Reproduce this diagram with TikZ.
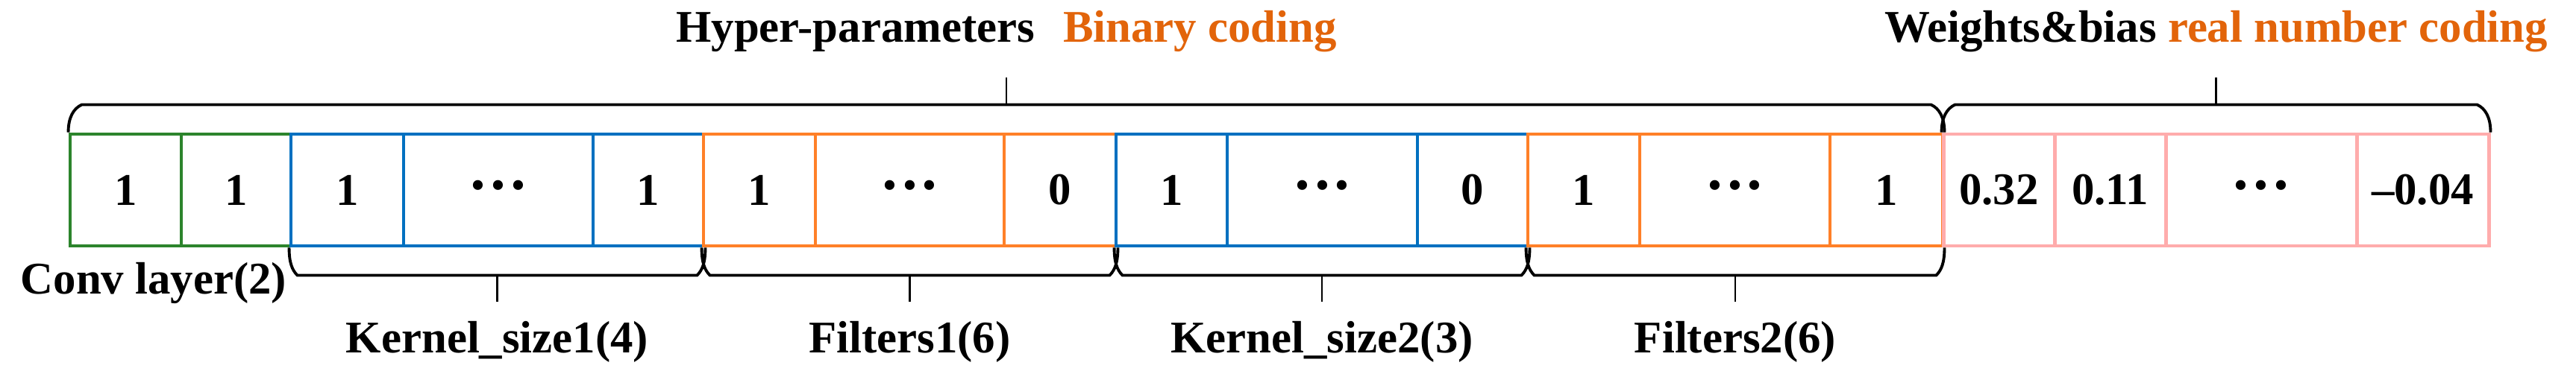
\documentclass[tikz,border=0pt]{standalone}
\usepackage{fontspec}
\setmainfont{Liberation Serif}
\usetikzlibrary{calc}
\definecolor{convgreen}{RGB}{44,132,44}
\definecolor{kernblue}{RGB}{0,112,192}
\definecolor{filtorange}{RGB}{255,128,40}
\definecolor{wtpink}{RGB}{255,172,172}
\definecolor{codeorange}{RGB}{226,100,10}
\tikzset{
  cell/.style={draw, line width=1.4pt, minimum height=1.5cm, inner sep=0pt},
  gcell/.style={cell, draw=convgreen},
  bcell/.style={cell, draw=kernblue},
  ocell/.style={cell, draw=filtorange},
  pcell/.style={cell, draw=wtpink},
  dotcell/.style={text height=0.41cm, text depth=0pt, font=\fontsize{23}{23}\selectfont\bfseries},
  brc/.style={line width=1.1pt, black},
  tick/.style={line width=0.8pt},
  lbl/.style={anchor=north, text height=0.45cm, text depth=0.12cm, inner sep=0.22cm},
  ttl/.style={anchor=south, text depth=0.15cm, inner xsep=0pt, inner ysep=0.31cm},
  % curved bracket below / above a group of cells
  dnbrace/.style={to path={.. controls ($(\tikztostart)+(0,-0.2)$) and ($(\tikztostart)+(0.04,-0.3)$) .. ($(\tikztostart)+(0.11,-0.37)$) -- ($(\tikztotarget)+(-0.11,-0.37)$) .. controls ($(\tikztotarget)+(-0.04,-0.3)$) and ($(\tikztotarget)+(0,-0.2)$) .. (\tikztotarget)}},
  upbrace/.style={to path={.. controls ($(\tikztostart)+(0,0.2)$) and ($(\tikztostart)+(0.07,0.32)$) .. ($(\tikztostart)+(0.18,0.37)$) -- ($(\tikztotarget)+(-0.18,0.37)$) .. controls ($(\tikztotarget)+(-0.07,0.32)$) and ($(\tikztotarget)+(0,0.2)$) .. (\tikztotarget)}}
}
\begin{document}
\begin{tikzpicture}[font=\fontsize{17.3}{20}\selectfont\bfseries]
\useasboundingbox (0,0) rectangle (34.53,5.05);
% conv layers
\node[gcell, minimum width=1.49cm] (c0) at (1.685,2.5){1};
\node[gcell, minimum width=1.47cm] (c1) at (3.165,2.5){1};
% kernel size 1
\node[bcell, minimum width=1.51cm] (c2) at (4.655,2.5){1};
\node[bcell, dotcell, minimum width=2.54cm] (c3) at (6.68,2.5){···};
\node[bcell, minimum width=1.48cm] (c4) at (8.69,2.5){1};
% filters 1
\node[ocell, minimum width=1.50cm] (c5) at (10.18,2.5){1};
\node[ocell, dotcell, minimum width=2.53cm] (c6) at (12.195,2.5){···};
\node[ocell, minimum width=1.50cm] (c7) at (14.21,2.5){0};
% kernel size 2
\node[bcell, minimum width=1.49cm] (c8) at (15.705,2.5){1};
\node[bcell, dotcell, minimum width=2.55cm] (c9) at (17.725,2.5){···};
\node[bcell, minimum width=1.48cm] (c10) at (19.74,2.5){0};
% filters 2
\node[ocell, minimum width=1.50cm] (c11) at (21.23,2.5){1};
\node[ocell, dotcell, minimum width=2.55cm] (c12) at (23.255,2.5){···};
\node[ocell, minimum width=1.51cm] (c13) at (25.285,2.5){1};
% weights
\node[pcell, minimum width=1.49cm] (c14) at (26.795,2.5){0.32};
\node[pcell, minimum width=1.49cm] (c15) at (28.285,2.5){0.11};
\node[pcell, dotcell, minimum width=2.56cm] (c16) at (30.31,2.5){···};
\node[pcell, minimum width=1.77cm] (c17) at (32.475,2.5){–0.04};
% top brackets
\draw[brc] (c0.north west) to[upbrace] (c13.north east);
\draw[brc] (c14.north west) to[upbrace] (c17.north east);
\coordinate (hpmid) at ($(c0.north west)!0.5!(c13.north east)+(0,0.37)$);
\coordinate (wbmid) at ($(c14.north west)!0.5!(c17.north east)+(0,0.37)$);
\node[ttl] (hplbl) at ($(hpmid)+(0,0.37)$){Hyper-parameters\hspace{0.38cm}\textcolor{codeorange}{Binary coding}};
\node[ttl] (wblbl) at ($(wbmid)+(0,0.37)$){Weights\&bias \textcolor{codeorange}{real number coding}};
\draw[tick] (hpmid) -- (hplbl.south);
\draw[tick] (wbmid) -- (wblbl.south);
% bottom brackets
\draw[brc] (c2.south west) to[dnbrace] (c4.south east);
\draw[brc] (c5.south west) to[dnbrace] (c7.south east);
\draw[brc] (c8.south west) to[dnbrace] (c10.south east);
\draw[brc] (c11.south west) to[dnbrace] (c13.south east);
\coordinate (k1mid) at ($(c2.south west)!0.5!(c4.south east)+(0,-0.37)$);
\coordinate (f1mid) at ($(c5.south west)!0.5!(c7.south east)+(0,-0.37)$);
\coordinate (k2mid) at ($(c8.south west)!0.5!(c10.south east)+(0,-0.37)$);
\coordinate (f2mid) at ($(c11.south west)!0.5!(c13.south east)+(0,-0.37)$);
\node[lbl] (k1lbl) at ($(k1mid)+(0,-0.36)$){Kernel\_size1(4)};
\node[lbl] (f1lbl) at ($(f1mid)+(0,-0.36)$){Filters1(6)};
\node[lbl] (k2lbl) at ($(k2mid)+(0,-0.36)$){Kernel\_size2(3)};
\node[lbl] (f2lbl) at ($(f2mid)+(0,-0.36)$){Filters2(6)};
\draw[tick] (k1mid) -- (k1lbl.north);
\draw[tick] (f1mid) -- (f1lbl.north);
\draw[tick] (k2mid) -- (k2lbl.north);
\draw[tick] (f2mid) -- (f2lbl.north);
\node[anchor=base] (convlbl) at (2.06,1.10){Conv layer(2)};
\end{tikzpicture}
\end{document}
